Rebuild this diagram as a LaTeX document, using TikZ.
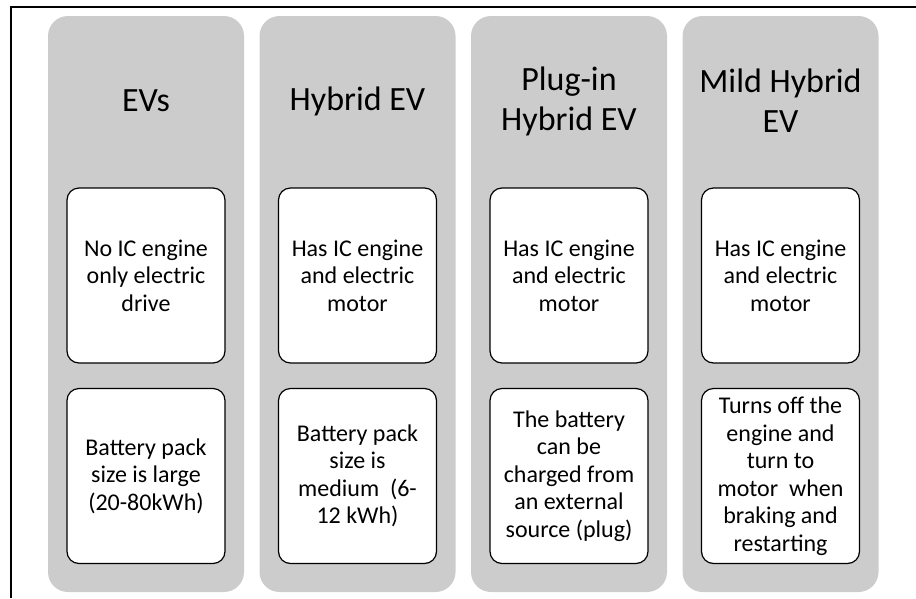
\documentclass[tikz,border=0pt]{standalone}
\usepackage{fontspec}
\setmainfont{Carlito}
\usetikzlibrary{positioning}
\definecolor{colgray}{RGB}{204,204,204}

\begin{document}
\begin{tikzpicture}[
  x=1pt, y=-1pt,
  column/.style={rectangle, fill=colgray, rounded corners=20pt,
                 minimum width=196pt, minimum height=576pt, inner sep=0pt},
  title/.style={align=center, font=\fontsize{34}{40}\selectfont},
  card/.style={rectangle, draw, line width=1.2pt, fill=white, rounded corners=12pt,
               minimum width=158pt, minimum height=175pt, inner sep=0pt,
               align=center, font=\fontsize{24}{27.5}\selectfont},
]
  \useasboundingbox (0,0) rectangle (916,598);
  \draw[line width=2pt] (11,598) -- (11,7) -- (916,7);

  \node[column] (c1) at (146,304)   {};
  \node[column] (c2) at (357.5,304) {};
  \node[column] (c3) at (569,304)   {};
  \node[column] (c4) at (780.5,304) {};

  \node[title] (t1) at (146,101)   {EVs};
  \node[title] (t2) at (357.5,101) {Hybrid EV};
  \node[title] (t3) at (569,101)   {Plug-in\\Hybrid EV};
  \node[title] (t4) at (780.5,101) {Mild Hybrid\\EV};

  \node[card] (a1) at (146,275.5)   {No IC engine\\only electric\\drive};
  \node[card] (a2) at (357.5,275.5) {Has IC engine\\and electric\\motor};
  \node[card] (a3) at (569,275.5)   {Has IC engine\\and electric\\motor};
  \node[card] (a4) at (780.5,275.5) {Has IC engine\\and electric\\motor};

  \node[card] (b1) at (146,476)   {Battery pack\\size is large\\(20-80kWh)};
  \node[card] (b2) at (357.5,476) {Battery pack\\size is\\medium\ \ (6-\\12 kWh)};
  \node[card] (b3) at (569,476)   {The battery\\can be\\charged from\\an external\\source (plug)};
  \node[card] (b4) at (780.5,476) {Turns off the\\engine and\\turn to\\motor\ \ when\\braking and\\restarting};
\end{tikzpicture}
\end{document}
